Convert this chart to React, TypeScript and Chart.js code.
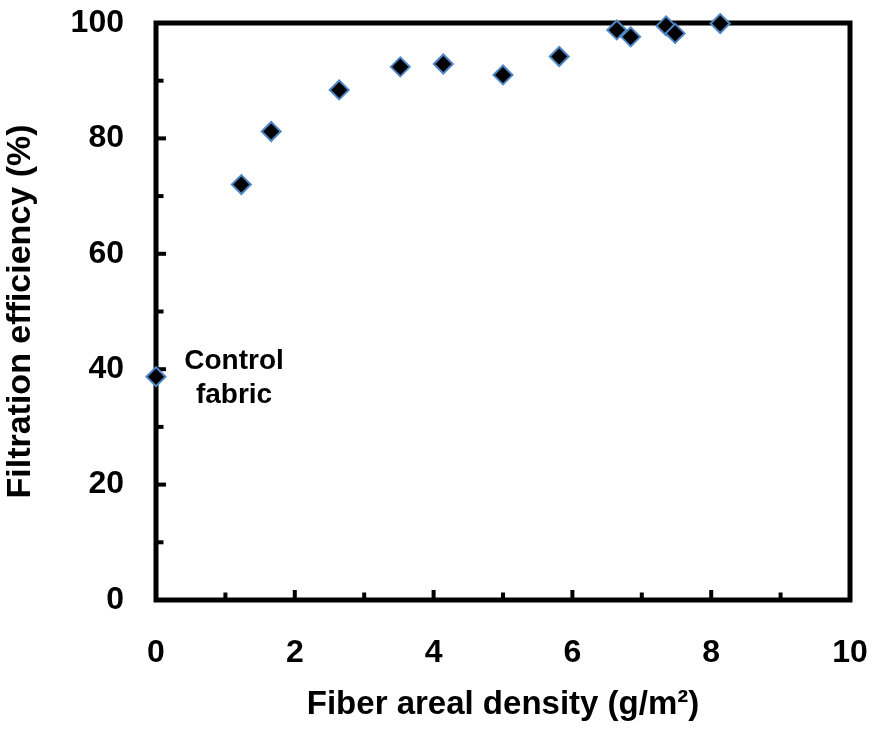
import React, { useEffect, useRef } from "react";
import { Chart, registerables } from "chart.js";

Chart.register(...registerables);

const densities = [0, 1.23, 1.66, 2.64, 3.52, 4.14, 5.0, 5.81, 6.64, 6.84, 7.35, 7.48, 8.13];
const efficiencies = [38.7, 72.0, 81.2, 88.4, 92.4, 92.9, 91.0, 94.2, 98.8, 97.6, 99.5, 98.2, 99.9];

const xMajorTicks = [2, 4, 6, 8];
const xMinorTicks = [1, 3, 5, 7, 9];
const yMajorTicks = [20, 40, 60, 80];
const yMinorTicks = [10, 30, 50, 70, 90];

const annotationLines = ["Control", "fabric"];
const annotationAnchor = { x: 0, y: 38.7 };

const xTitle = "Fiber areal density (g/m²)";
const yTitle = "Filtration efficiency (%)";

const FONT = "'Liberation Sans', Arial, sans-serif";

const framePlugin = {
  id: "frame",
  beforeDatasetsDraw(chart: any) {
    const { ctx, chartArea: a, scales } = chart;
    const x = scales.x;
    const y = scales.y;
    ctx.save();
    ctx.strokeStyle = "#000";
    ctx.lineWidth = 5;
    ctx.lineJoin = "miter";
    ctx.strokeRect(a.left, a.top, a.right - a.left, a.bottom - a.top);
    ctx.lineWidth = 4;
    ctx.lineCap = "butt";
    const seg = (x1: number, y1: number, x2: number, y2: number) => {
      ctx.beginPath();
      ctx.moveTo(x1, y1);
      ctx.lineTo(x2, y2);
      ctx.stroke();
    };
    xMajorTicks.forEach((v) => {
      const p = x.getPixelForValue(v);
      seg(p, a.bottom, p, a.bottom - 10);
    });
    xMinorTicks.forEach((v) => {
      const p = x.getPixelForValue(v);
      seg(p, a.bottom, p, a.bottom - 7.5);
    });
    yMajorTicks.forEach((v) => {
      const p = y.getPixelForValue(v);
      seg(a.left, p, a.left + 10, p);
    });
    yMinorTicks.forEach((v) => {
      const p = y.getPixelForValue(v);
      seg(a.left, p, a.left + 7.5, p);
    });
    ctx.restore();
  },
  afterDatasetsDraw(chart: any) {
    const { ctx, scales } = chart;
    const px = scales.x.getPixelForValue(annotationAnchor.x);
    const py = scales.y.getPixelForValue(annotationAnchor.y);
    ctx.save();
    ctx.fillStyle = "#000";
    ctx.font = `bold 28px ${FONT}`;
    ctx.textAlign = "center";
    ctx.textBaseline = "alphabetic";
    ctx.fillText(annotationLines[0], px + 78, py - 8);
    ctx.fillText(annotationLines[1], px + 78, py + 26);
    ctx.restore();
  },
};

const zeroPad = (scale: any) => {
  scale.paddingTop = 0;
  scale.paddingBottom = 0;
  scale.paddingLeft = 0;
  scale.paddingRight = 0;
};

export default function App() {
  const ref = useRef<HTMLCanvasElement | null>(null);

  useEffect(() => {
    if (!ref.current) return;
    const chart = new Chart(ref.current, {
      type: "scatter",
      data: {
        datasets: [
          {
            data: densities.map((d, i) => ({ x: d, y: efficiencies[i] })),
            pointStyle: "rectRot",
            pointRadius: 9.5,
            pointHoverRadius: 9.5,
            pointBackgroundColor: "#000000",
            pointBorderColor: "#4f86c6",
            pointBorderWidth: 2,
            showLine: false,
            clip: false,
          } as any,
        ],
      },
      options: {
        responsive: false,
        animation: false,
        events: [],
        layout: { padding: { top: 23, right: 23, left: 0, bottom: 0 } },
        plugins: {
          legend: { display: false },
          tooltip: { enabled: false },
        },
        scales: {
          x: {
            type: "linear",
            min: 0,
            max: 10,
            grid: { display: false, drawTicks: false },
            border: { display: false },
            ticks: {
              stepSize: 2,
              padding: 34,
              color: "#000",
              font: { family: FONT, size: 32, weight: "bold" },
            },
            title: {
              display: true,
              text: xTitle,
              color: "#000",
              font: { family: FONT, size: 33, weight: "bold" },
              padding: { top: 0, bottom: 9 },
            },
            afterFit(scale: any) {
              scale.height = 134;
              zeroPad(scale);
            },
          },
          y: {
            type: "linear",
            min: 0,
            max: 100,
            grid: { display: false, drawTicks: false },
            border: { display: false },
            ticks: {
              stepSize: 20,
              padding: 32,
              color: "#000",
              font: { family: FONT, size: 32, weight: "bold" },
            },
            title: {
              display: true,
              text: yTitle,
              color: "#000",
              font: { family: FONT, size: 34, weight: "bold" },
              padding: { top: 0, bottom: 0 },
            },
            afterFit(scale: any) {
              scale.width = 156;
              zeroPad(scale);
            },
          },
        },
      } as any,
      plugins: [framePlugin],
    });
    return () => chart.destroy();
  }, []);

  return (
    <div style={{ position: "fixed", left: 0, top: 0, width: 873, height: 734, background: "#fff" }}>
      <canvas ref={ref} width={873} height={734} style={{ display: "block" }} />
    </div>
  );
}
